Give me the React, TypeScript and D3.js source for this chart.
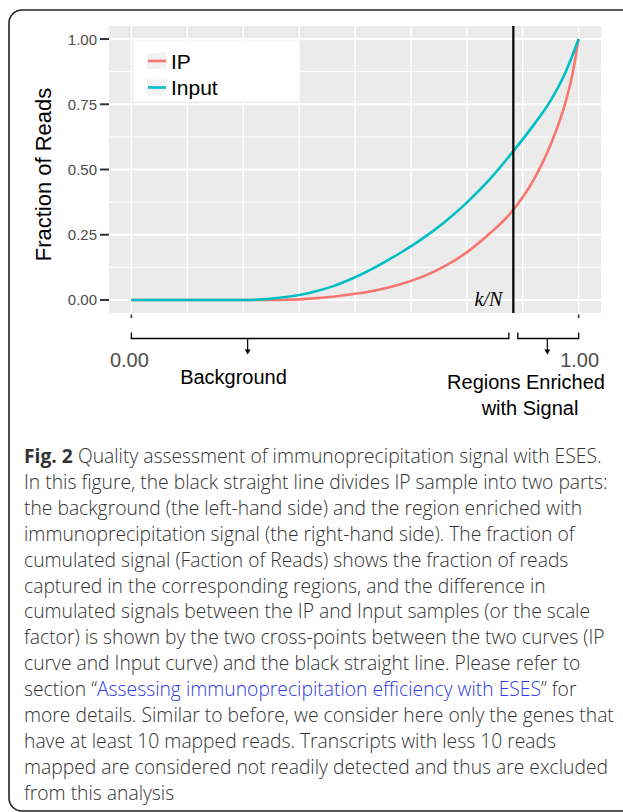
import React from "react";
import * as d3 from "d3";

// ---- data ----
const rankFraction = [0, 0.1, 0.2, 0.25, 0.3, 0.35, 0.4, 0.45, 0.5, 0.55, 0.6, 0.65, 0.7, 0.75, 0.8, 0.85, 0.9, 0.94, 0.97, 0.985, 1.0];
const inputValues = [0, 0, 0, 0, 0.003, 0.012, 0.028, 0.052, 0.087, 0.13, 0.179, 0.234, 0.298, 0.373, 0.46, 0.562, 0.672, 0.772, 0.87, 0.932, 1.0];
const ipValues = [0, 0, 0, 0, 0, 0.001, 0.005, 0.0125, 0.0235, 0.0385, 0.0595, 0.0885, 0.1285, 0.1825, 0.2525, 0.3375, 0.4625, 0.6065, 0.7535, 0.8555, 1.0];
const seriesNames = ["IP", "Input"];
const seriesColors = ["#F8766D", "#00BFC4"];
const yTicks = [0, 0.25, 0.5, 0.75, 1.0];
const yTickLabels = ["0.00", "0.25", "0.50", "0.75", "1.00"];
const kN = 0.854;
const backgroundArrow = 0.26;
const enrichedArrow = 0.93;

const captionLines: { text: string; style?: "bold" | "link" }[][] = [
  [{ text: "Fig. 2", style: "bold" }, { text: " Quality assessment of immunoprecipitation signal with ESES." }],
  [{ text: "In this figure, the black straight line divides IP sample into two parts:" }],
  [{ text: "the background (the left-hand side) and the region enriched with" }],
  [{ text: "immunoprecipitation signal (the right-hand side). The fraction of" }],
  [{ text: "cumulated signal (Faction of Reads) shows the fraction of reads" }],
  [{ text: "captured in the corresponding regions, and the difference in" }],
  [{ text: "cumulated signals between the IP and Input samples (or the scale" }],
  [{ text: "factor) is shown by the two cross-points between the two curves (IP" }],
  [{ text: "curve and Input curve) and the black straight line. Please refer to" }],
  [{ text: "section \u201C" }, { text: "Assessing immunoprecipitation efficiency with ESES", style: "link" }, { text: "\u201D for" }],
  [{ text: "more details. Similar to before, we consider here only the genes that" }],
  [{ text: "have at least 10 mapped reads. Transcripts with less 10 reads" }],
  [{ text: "mapped are considered not readily detected and thus are excluded" }],
  [{ text: "from this analysis" }],
];

const W = 623;
const H = 812;
const panel = { left: 109, right: 601, top: 26, bottom: 313 };
const SANS = "'Liberation Sans', Arial, Helvetica, sans-serif";

export default function App() {
  React.useEffect(() => {
    document.body.style.margin = "0";
  }, []);

  const x = d3.scaleLinear().domain([-0.05, 1.05]).range([panel.left, panel.right]);
  const y = d3.scaleLinear().domain([-0.05, 1.05]).range([panel.bottom, panel.top]);

  const seriesData = [ipValues, inputValues];
  const line = d3
    .line<number>()
    .x((_, i) => x(rankFraction[i]))
    .y((d) => y(d))
    .curve(d3.curveMonotoneX);

  const yMinor = d3.range(0, 1.01, 0.25).slice(0, -1).map((v) => v + 0.125);
  const xGrid = d3.range(0, 1.0001, 0.125);

  const bracketY = 338.5;
  const bracketTick = 6;
  const arrowLen = 15;

  const arrow = (xv: number, key: string) => {
    const ax = x(xv);
    return (
      <g key={key}>
        <line x1={ax} x2={ax} y1={bracketY} y2={bracketY + arrowLen - 3} stroke="#000" strokeWidth={1.2} />
        <path d={`M${ax - 3},${bracketY + arrowLen - 4} L${ax + 3},${bracketY + arrowLen - 4} L${ax},${bracketY + arrowLen + 1} Z`} fill="#000" />
      </g>
    );
  };

  const bracket = (a: number, b: number, key: string) => {
    const xa = x(a);
    const xb = x(b);
    return (
      <path
        key={key}
        d={`M${xa},${bracketY - bracketTick} L${xa},${bracketY} L${xb},${bracketY} L${xb},${bracketY - bracketTick}`}
        fill="none"
        stroke="#000"
        strokeWidth={1.3}
      />
    );
  };

  const capX = 24;
  const capY0 = 463;
  const capDy = 25.9;

  return (
    <svg width={W} height={H} style={{ position: "absolute", left: 0, top: 0, background: "#fff" }}>
      {/* outer frame */}
      <rect x={9} y={10} width={700} height={801} rx={13} ry={13} fill="none" stroke="#222" strokeWidth={1.6} />

      {/* panel */}
      <rect x={panel.left} y={panel.top} width={panel.right - panel.left} height={panel.bottom - panel.top} fill="#EBEBEB" />
      {yMinor.map((v) => (
        <line key={"ym" + v} x1={panel.left} x2={panel.right} y1={y(v)} y2={y(v)} stroke="#fff" strokeWidth={1} />
      ))}
      {xGrid.map((v) => (
        <line key={"xg" + v} x1={x(v)} x2={x(v)} y1={panel.top} y2={panel.bottom} stroke="#fff" strokeWidth={1.4} />
      ))}
      {yTicks.map((v) => (
        <line key={"yg" + v} x1={panel.left} x2={panel.right} y1={y(v)} y2={y(v)} stroke="#fff" strokeWidth={1.9} />
      ))}

      {/* curves */}
      {seriesData.map((vals, i) => (
        <path key={seriesNames[i]} d={line(vals) || ""} fill="none" stroke={seriesColors[i]} strokeWidth={2.6} />
      ))}

      {/* k/N line */}
      <line x1={x(kN)} x2={x(kN)} y1={panel.top} y2={panel.bottom} stroke="#000" strokeWidth={2.2} />
      <text
        x={x(kN) - 11}
        y={y(0) + 6}
        textAnchor="end"
        fontFamily="'Liberation Serif', 'Times New Roman', serif"
        fontStyle="italic"
        fontSize={20}
        fill="#000"
      >
        k/N
      </text>

      {/* y axis */}
      {yTicks.map((v, i) => (
        <g key={"yt" + v}>
          <line x1={panel.left - 9} x2={panel.left} y1={y(v)} y2={y(v)} stroke="#333" strokeWidth={2} />
          <text x={panel.left - 12} y={y(v) + 5.5} textAnchor="end" fontFamily={SANS} fontSize={15} fill="#4D4D4D">
            {yTickLabels[i]}
          </text>
        </g>
      ))}
      <text
        transform={`translate(51,${y(0.5) + 5}) rotate(-90)`}
        textAnchor="middle"
        fontFamily={SANS}
        fontSize={22}
        fill="#000"
      >
        Fraction of Reads
      </text>

      {/* legend */}
      <rect x={133.5} y={40.5} width={165} height={61} fill="#fff" />
      {seriesNames.map((name, i) => {
        const ly = 61 + i * 26.5;
        return (
          <g key={"lg" + name}>
            <rect x={147} y={ly - 8} width={20} height={16} fill="#F2F2F2" />
            <line x1={148} x2={166} y1={ly} y2={ly} stroke={seriesColors[i]} strokeWidth={2.6} />
            <text x={171} y={ly + 7.5} fontFamily={SANS} fontSize={21} fill="#000">
              {name}
            </text>
          </g>
        );
      })}

      {/* small axis end marks */}
      {[0, 1].map((v) => (
        <line key={"em" + v} x1={x(v)} x2={x(v)} y1={panel.bottom + 1.5} y2={panel.bottom + 5} stroke="#333" strokeWidth={1.6} />
      ))}

      {/* brackets and arrows */}
      {bracket(0, kN - 0.01, "b1")}
      {bracket(kN + 0.01, 1, "b2")}
      {arrow(backgroundArrow, "a1")}
      {arrow(enrichedArrow, "a2")}

      <text x={x(0) - 2} y={366.5} textAnchor="middle" fontFamily={SANS} fontSize={20} fill="#4D4D4D">
        0.00
      </text>
      <text x={x(1) + 1} y={366.5} textAnchor="middle" fontFamily={SANS} fontSize={20} fill="#4D4D4D">
        1.00
      </text>
      <text x={233.5} y={384} textAnchor="middle" fontFamily={SANS} fontSize={20} fill="#000">
        Background
      </text>
      <text x={526} y={388.5} textAnchor="middle" fontFamily={SANS} fontSize={20} fill="#000">
        Regions Enriched
      </text>
      <text x={530} y={415} textAnchor="middle" fontFamily={SANS} fontSize={20} fill="#000">
        with Signal
      </text>

      {/* caption */}
      {captionLines.map((segs, i) => (
        <text key={"cap" + i} x={capX} y={capY0 + i * capDy} fontFamily="'Open Sans', sans-serif" fontSize={19.3} fontWeight={300} fill="#333">
          {segs.map((s, j) => (
            <tspan
              key={j}
              fontWeight={s.style === "bold" ? 700 : undefined}
              fill={s.style === "link" ? "#2f3be6" : undefined}
            >
              {s.text}
            </tspan>
          ))}
        </text>
      ))}
    </svg>
  );
}
